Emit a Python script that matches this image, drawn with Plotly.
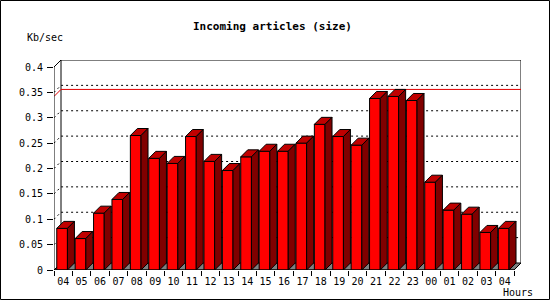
import plotly.graph_objects as go

# ---- data ----
hours = ["04", "05", "06", "07", "08", "09", "10", "11", "12", "13", "14", "15", "16",
         "17", "18", "19", "20", "21", "22", "23", "00", "01", "02", "03", "04"]
values = [0.082, 0.062, 0.112, 0.139, 0.265, 0.220, 0.210, 0.263, 0.214, 0.196, 0.223,
          0.234, 0.234, 0.250, 0.287, 0.263, 0.246, 0.338, 0.342, 0.334, 0.173, 0.118,
          0.110, 0.074, 0.082]
ytick_vals = [0, 0.05, 0.1, 0.15, 0.2, 0.25, 0.3, 0.35, 0.4]
ytick_text = ["0", "0.05", "0.1", "0.15", "0.2", "0.25", "0.3", "0.35", "0.4"]
title_text = "Incoming articles (size)"
y_label = "Kb/sec"
x_label = "Hours"

# ---- style / geometry ----
W, H = 550, 300
ML, MR, MT, MB = 54, 29, 60, 30
n = len(values)
ymax = 0.4
pw = W - ML - MR
ph = H - MT - MB
DEPTH_PX = 7
dx = DEPTH_PX / (pw / 25.38)
xr = n + dx
dy = DEPTH_PX / (ph / (ymax + 0.0138))
yr = ymax + dy
off, bw = 0.15, 0.58
MONO = "DejaVu Sans Mono"

fig = go.Figure()

# floor
fig.add_trace(go.Scatter(x=[0, n, n + dx, dx, 0], y=[0, 0, dy, dy, 0], mode="lines",
                         fill="toself", fillcolor="#808080",
                         line=dict(color="black", width=1), hoverinfo="skip"))

# dotted grid on back wall + left wall
gx, gy = [], []
for v in ytick_vals[1:-1]:
    gx += [0, dx, xr, None]
    gy += [v, v + dy, v + dy, None]
fig.add_trace(go.Scatter(x=gx, y=gy, mode="lines",
                         line=dict(color="black", width=1, dash="2px,3px"), hoverinfo="skip"))

# max line
vmax = max(values)
fig.add_trace(go.Scatter(x=[0, dx, xr], y=[vmax, vmax + dy, vmax + dy], mode="lines",
                         line=dict(color="#e00000", width=1), hoverinfo="skip"))

# bars
fx, fy, tx, ty, sx, sy = [], [], [], [], [], []
for i, v in enumerate(values):
    x0 = i + off
    x1 = x0 + bw
    fx += [x0, x1, x1, x0, x0, None]
    fy += [0, 0, v, v, 0, None]
    tx += [x0, x1, x1 + dx, x0 + dx, x0, None]
    ty += [v, v, v + dy, v + dy, v, None]
    sx += [x1, x1 + dx, x1 + dx, x1, x1, None]
    sy += [0, dy, v + dy, v, 0, None]
for xs, ys, col in [(fx, fy, "#ff0000"), (tx, ty, "#c00000"), (sx, sy, "#800000")]:
    fig.add_trace(go.Scatter(x=xs, y=ys, mode="lines", fill="toself", fillcolor=col,
                             line=dict(color="black", width=1), hoverinfo="skip"))

shapes = []
def seg(x0, y0, x1, y1, layer="above"):
    shapes.append(dict(type="line", xref="x", yref="y", x0=x0, y0=y0, x1=x1, y1=y1,
                       line=dict(color="black", width=1), layer=layer))
# back frame
seg(dx, yr, xr, yr, "below")
seg(xr, yr, xr, dy, "below")
seg(dx, dy, dx, yr, "below")
# front axes
seg(0, 0, 0, ymax)
seg(0, ymax, dx, yr)
seg(0, 0, n, 0)
seg(n, 0, xr, dy)
# outer border
shapes.append(dict(type="rect", xref="paper", yref="paper",
                   x0=(-ML + 0.5) / pw, x1=1 + (MR - 0.5) / pw,
                   y0=(-MB + 0.5) / ph, y1=1 + (MT - 0.5) / ph,
                   line=dict(color="black", width=1), layer="above"))

annotations = [
    dict(text="<b>" + title_text + "</b>", xref="paper", yref="paper",
         x=(272 - ML) / pw, y=(H - MB - 27) / ph, xanchor="center", yanchor="middle",
         showarrow=False, font=dict(family=MONO, size=11, color="black")),
    dict(text=y_label, xref="paper", yref="paper",
         x=(45 - ML) / pw, y=(H - MB - 38) / ph, xanchor="center", yanchor="middle",
         showarrow=False, font=dict(family=MONO, size=10, color="black")),
    dict(text=x_label, xref="paper", yref="paper",
         x=(535 - ML) / pw, y=(H - MB - 292) / ph, xanchor="right", yanchor="middle",
         showarrow=False, font=dict(family=MONO, size=10, color="black")),
]

fig.update_layout(
    width=W, height=H, autosize=False,
    margin=dict(l=ML, r=MR, t=MT, b=MB, pad=0),
    paper_bgcolor="white", plot_bgcolor="white",
    showlegend=False, shapes=shapes, annotations=annotations,
    xaxis=dict(range=[0, xr], showgrid=False, zeroline=False, showline=False,
               tickvals=[i + 0.5 for i in range(n)], ticktext=hours, ticks="",
               ticklabelstandoff=4,
               tickfont=dict(family=MONO, size=10, color="black"),
               minor=dict(tickvals=list(range(n + 1)), ticks="outside", ticklen=5,
                          tickcolor="black", tickwidth=1, showgrid=False),
               fixedrange=True),
    yaxis=dict(range=[0, yr], showgrid=False, zeroline=False, showline=False,
               tickvals=ytick_vals, ticktext=ytick_text, ticks="outside", ticklen=6,
               tickcolor="black", tickwidth=1, ticklabelstandoff=2,
               tickfont=dict(family=MONO, size=10, color="black"), fixedrange=True),
)

fig.write_html("out.html", config={"displayModeBar": False})
